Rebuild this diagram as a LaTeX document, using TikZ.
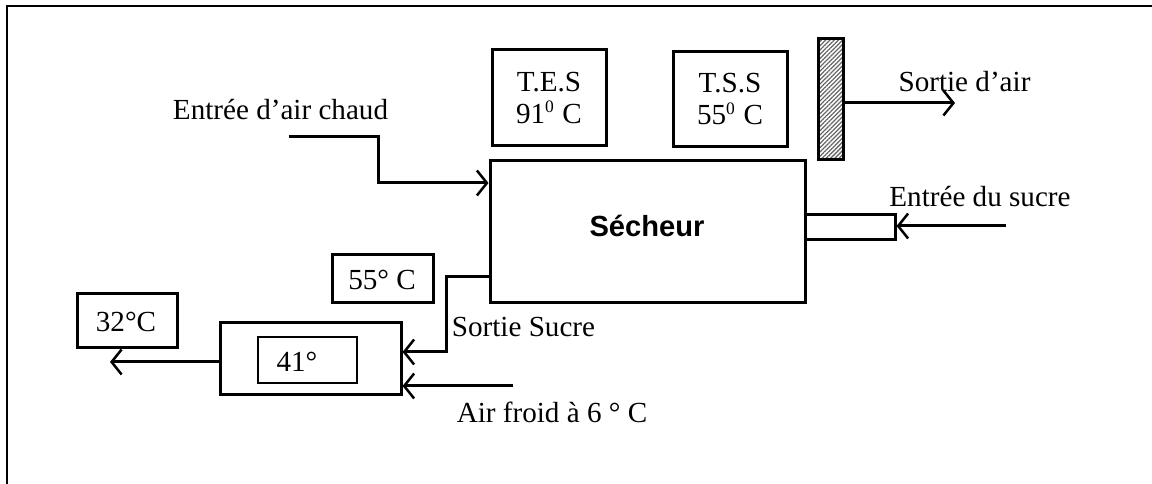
\documentclass[tikz,border=0pt]{standalone}
\usepackage{fontspec}
\setmainfont{Liberation Serif}
\setsansfont{Liberation Sans}
\usepackage{tikz}
\usetikzlibrary{arrows.meta, positioning, patterns.meta}

\begin{document}
\begin{tikzpicture}[
    x=0.4pt, y=-0.4pt,
    every node/.style={font=\fontsize{11.65}{12.8}\selectfont},
    box/.style={rectangle, draw, line width=1.2pt, inner sep=0pt, align=center},
    thinbox/.style={rectangle, draw, line width=0.45pt, inner sep=0pt},
    txt/.style={anchor=base, inner sep=0pt},
    flow/.style={line width=1.2pt, -{Straight Barb[length=4pt, width=10pt, line width=1pt]}},
    frame/.style={line width=0.6pt}
  ]
  \useasboundingbox (0,0) rectangle (1152,484);
  \draw[frame] (7,484) -- (7,6) -- (1152,6);
  % sensors above the dryer
  \node[box, minimum width=114*0.4pt, minimum height=96*0.4pt] (tes) at (549,98) {T.E.S\\91\textsuperscript{\scriptsize 0} C};
  \node[box, minimum width=114*0.4pt, minimum height=95*0.4pt] (tss) at (730,99.5) {T.S.S\\55\textsuperscript{\scriptsize 0} C};
  \node[box, minimum width=25*0.4pt, minimum height=121*0.4pt,
        pattern={Lines[angle=45, distance=1.2pt, line width=0.5pt]}, pattern color=black!60] (filtre) at (830.5,99.5) {};
  % dryer and sugar feed
  \node[box, minimum width=315*0.4pt, minimum height=142*0.4pt] (sech) at (647.5,232) {};
  \node[txt, font=\fontsize{11.65}{12.8}\selectfont\sffamily\bfseries] (sechlbl) at (647,237) {Sécheur};
  \node[box, minimum width=90*0.4pt, minimum height=25*0.4pt] (tube) at (850,227.5) {};
  \node[box, minimum width=101*0.4pt, minimum height=48*0.4pt] (t55) at (382.5,279) {};
  \node[txt] (t55lbl) at (382,290) {55° C};
  % cooler
  \node[box, minimum width=181*0.4pt, minimum height=72*0.4pt] (cooler) at (310.5,359) {};
  \node[thinbox, minimum width=99*0.4pt, minimum height=46*0.4pt] (t41) at (307.5,360) {};
  \node[txt] (t41lbl) at (297,372) {41°};
  \node[box, minimum width=100*0.4pt, minimum height=54*0.4pt] (t32) at (127,321) {};
  \node[txt] (t32lbl) at (126,332) {32°C};
  % labels
  \node[txt] (hotlbl) at (280.5,120) {Entrée d’air chaud};
  \node[txt] (airlbl) at (964.5,92) {Sortie d’air};
  \node[txt] (sugarlbl) at (980,207) {Entrée du sucre};
  \node[txt] (soutlbl) at (523.5,337) {Sortie Sucre};
  \node[txt] (coldlbl) at (552,423) {Air froid à 6 ° C};
  % connectors
  \coordinate (hot) at (289,137);
  \coordinate (hotbend) at (378,183);
  \coordinate (airout) at (955,103);
  \coordinate (sugar) at (1006,226);
  \coordinate (sout1) at (446,277);
  \coordinate (sout2) at (446,352);
  \coordinate (cold) at (513,386);
  \coordinate (out) at (110,362);
  \draw[flow] (hot) -| (hotbend) -- (hotbend -| sech.west);
  \draw[flow] (filtre.east |- airout) -- (airout);
  \draw[flow] (sugar) -- (sugar -| tube.east);
  \draw[flow] (sech.west |- sout1) -- (sout1) -- (sout2) -- (sout2 -| cooler.east);
  \draw[flow] (cold) -- (cold -| cooler.east);
  \draw[flow] (cooler.west |- out) -- (out);
\end{tikzpicture}
\end{document}
